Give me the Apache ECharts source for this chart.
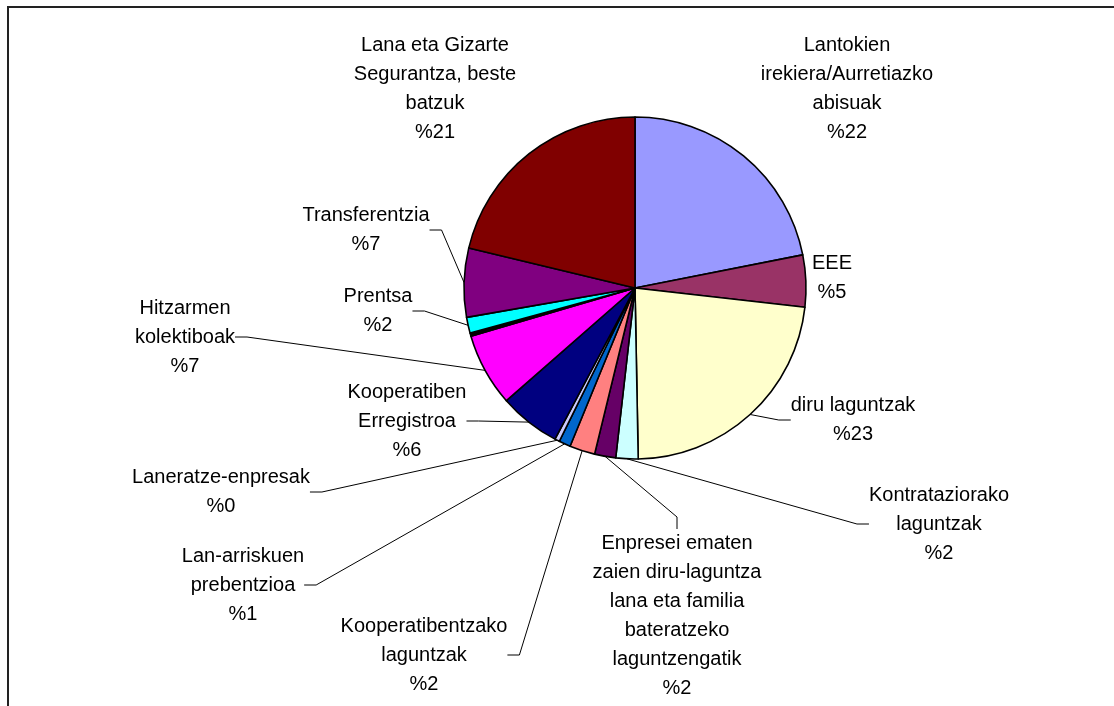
<!DOCTYPE html>
<html>
<head>
<meta charset="utf-8">
<script src="https://cdn.jsdelivr.net/npm/echarts@6/dist/echarts.min.js"></script>
<style>
  html, body { margin: 0; padding: 0; background: #fff; }
  #chart { width: 1114px; height: 706px; }
</style>
</head>
<body>
<div id="chart"></div>
<script>
// slices, clockwise from 12 o'clock
var names = [
  'Lantokien\nirekiera/Aurretiazko\nabisuak',
  'EEE',
  'diru laguntzak',
  'Kontratazio' + 'rako\nlaguntzak',
  'Enpresei ematen\nzaien diru-laguntza\nlana eta familia\nbateratzeko\nlaguntzengatik',
  'Kooperatibentzako\nlaguntzak',
  'Lan-arriskuen\nprebentzioa',
  'Laneratze-enpresak',
  'Kooperatiben\nErregistroa',
  'Hitzarmen\nkolektiboak',
  '',
  'Prentsa',
  'Transferentzia',
  'Lana eta Gizarte\nSegurantza, beste\nbatzuk'
];
var values = [21.9, 4.9, 22.9, 2.1, 2.0, 2.4, 1.1, 0.45, 5.8, 6.9, 0.3, 1.5, 6.5, 21.25];
var colors = ['#9999FF', '#993366', '#FFFFCC', '#CCFFFF', '#660066', '#FF8080', '#0066CC',
              '#CCCCFF', '#000080', '#FF00FF', '#000000', '#00FFFF', '#800080', '#800000'];

// where each label block is centred (layout only)
var labelPos = [
  [847, 89], [832, 278], [853, 420], [939, 524], [677, 616], [424, 655], [243, 585],
  [221, 492], [407, 421], [185, 337], null, [378, 311], [366, 230], [435, 89]
];
var noLine = [0, 1, 13];

var chart = echarts.init(document.getElementById('chart'));

var pieData = names.map(function (n, i) {
  var item = { name: n, value: values[i], itemStyle: { color: colors[i] } };
  if (!labelPos[i]) {
    item.label = { show: false };
    item.labelLine = { show: false };
  } else if (noLine.indexOf(i) >= 0) {
    item.labelLine = { show: false };
  }
  return item;
});

chart.setOption({
  animation: false,
  backgroundColor: '#fff',
  graphic: [{
    type: 'rect',
    shape: { x: 8, y: 7, width: 1300, height: 900 },
    style: { fill: 'none', stroke: '#222', lineWidth: 2 },
    silent: true
  }],
  series: [{
    type: 'pie',
    center: [635, 288],
    radius: 171,
    startAngle: 90,
    clockwise: true,
    avoidLabelOverlap: false,
    data: pieData,
    itemStyle: { borderColor: '#000', borderWidth: 1.6 },
    emphasis: { disabled: true },
    label: {
      show: true,
      position: 'outside',
      color: '#000',
      fontFamily: '"Liberation Sans", Arial, sans-serif',
      fontSize: 20,
      lineHeight: 29,
      align: 'center',
      formatter: function (p) {
        return p.name + '\n%' + Math.round(p.value);
      }
    },
    labelLine: {
      show: true,
      length: 10,
      length2: 12,
      minTurnAngle: 0,
      lineStyle: { color: '#000', width: 1 }
    },
    labelLayout: function (params) {
      var p = labelPos[params.dataIndex];
      if (!p) return {};
      return { x: p[0], y: p[1], align: 'center', verticalAlign: 'middle' };
    }
  }]
});
</script>
</body>
</html>
